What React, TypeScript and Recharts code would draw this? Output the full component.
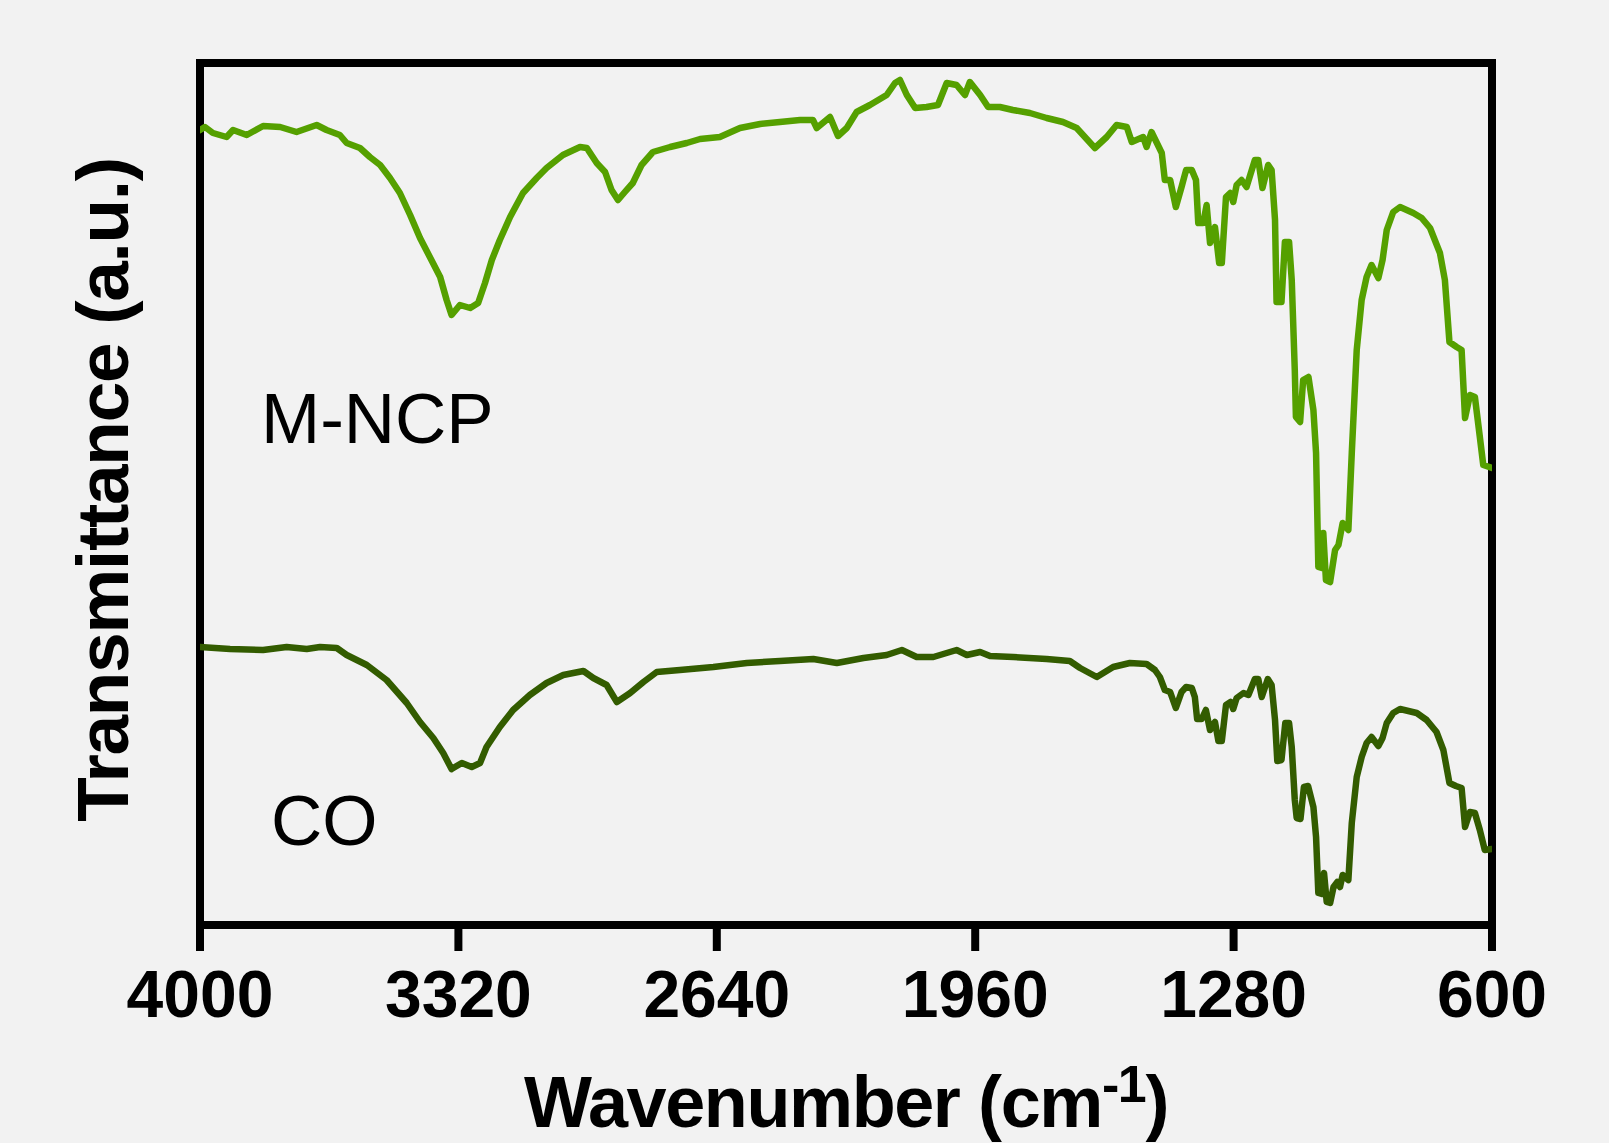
import React from 'react';
import { LineChart, Line, XAxis, YAxis, ReferenceArea } from 'recharts';

// ---------- data ----------
const X_TICKS = [4000, 3320, 2640, 1960, 1280, 600];

const MNCP_WAVENUMBER = [
  4000, 3987, 3966, 3930, 3913, 3877, 3834, 3789, 3746, 3693,
  3667, 3632, 3614, 3579, 3553, 3526, 3500, 3474, 3447, 3421,
  3387, 3368, 3351, 3338, 3316, 3289, 3268, 3250, 3232, 3211,
  3184, 3150, 3114, 3088, 3045, 3000, 2982, 2956, 2934, 2917,
  2900, 2882, 2861, 2838, 2808, 2763, 2719, 2684, 2632, 2579,
  2526, 2474, 2421, 2387, 2377, 2342, 2321, 2298, 2272, 2237,
  2193, 2171, 2158, 2140, 2118, 2088, 2058, 2035, 2009, 1987,
  1974, 1947, 1926, 1895, 1861, 1816, 1772, 1729, 1693, 1645,
  1614, 1588, 1561, 1548, 1518, 1509, 1496, 1469, 1461, 1447,
  1432, 1417, 1405, 1390, 1379, 1373, 1360, 1351, 1342, 1329,
  1318, 1311, 1300, 1289, 1281, 1272, 1259, 1246, 1224, 1215,
  1204, 1189, 1180, 1171, 1167, 1154, 1145, 1134, 1127, 1119,
  1116, 1105, 1097, 1083, 1070, 1063, 1057, 1048, 1044, 1037,
  1026, 1013, 1004, 993, 978, 969, 956, 943, 930, 917,
  899, 888, 877, 860, 842, 807, 785, 763, 737, 724,
  712, 693, 680, 671, 658, 645, 632, 623, 600,
];
const MNCP_T = [
  795, 798, 792, 788, 795, 790, 799, 798, 793, 800,
  795, 790, 782, 777, 768, 760, 747, 732, 710, 687,
  662, 648, 625, 610, 620, 617, 622, 642, 665, 685,
  708, 732, 747, 757, 770, 778, 777, 762, 753, 735,
  725, 733, 742, 760, 773, 778, 782, 786, 788, 797,
  801, 803, 805, 805, 797, 808, 789, 797, 813, 820,
  830, 842, 845, 830, 817, 818, 820, 842, 840, 830,
  843, 830, 818, 818, 815, 812, 807, 803, 797, 777,
  788, 800, 798, 783, 788, 778, 793, 772, 745, 745,
  718, 738, 755, 755, 745, 702, 702, 720, 682, 698,
  662, 662, 728, 732, 723, 740, 745, 738, 765, 765,
  737, 760, 755, 705, 623, 623, 683, 683, 645, 555,
  508, 503, 545, 548, 515, 472, 358, 357, 392, 345,
  343, 375, 380, 402, 395, 472, 575, 625, 648, 660,
  647, 665, 695, 713, 718, 712, 707, 697, 672, 645,
  583, 578, 575, 507, 530, 528, 488, 460, 457,
];

const CO_WAVENUMBER = [
  4000, 3921, 3834, 3772, 3719, 3684, 3640, 3614, 3561, 3509,
  3456, 3421, 3386, 3360, 3338, 3311, 3285, 3263, 3246, 3211,
  3176, 3132, 3088, 3044, 2991, 2965, 2930, 2903, 2868, 2833,
  2798, 2737, 2649, 2561, 2474, 2386, 2324, 2254, 2193, 2153,
  2114, 2070, 2009, 1982, 1947, 1921, 1860, 1772, 1711, 1684,
  1640, 1597, 1553, 1509, 1487, 1474, 1461, 1447, 1432, 1417,
  1405, 1390, 1382, 1376, 1364, 1353, 1342, 1329, 1320, 1311,
  1300, 1288, 1281, 1272, 1254, 1241, 1224, 1215, 1206, 1190,
  1180, 1171, 1165, 1154, 1144, 1134, 1127, 1119, 1114, 1104,
  1095, 1084, 1070, 1063, 1057, 1048, 1042, 1035, 1026, 1017,
  1007, 1000, 993, 978, 969, 956, 943, 930, 917, 899,
  888, 877, 860, 842, 798, 772, 746, 728, 712, 695,
  680, 671, 658, 645, 632, 619, 600,
];
const CO_T = [
  278, 276, 275, 278, 276, 278, 277, 270, 260, 245,
  222, 203, 187, 172, 156, 162, 158, 162, 178, 198,
  215, 230, 242, 250, 254, 247, 240, 223, 232, 243,
  253, 255, 258, 262, 264, 266, 262, 267, 270, 275,
  268, 268, 275, 270, 273, 269, 268, 266, 264, 257,
  248, 258, 262, 261, 255, 248, 235, 233, 217, 233,
  238, 237, 228, 206, 206, 215, 195, 203, 184, 184,
  220, 223, 216, 227, 232, 230, 246, 246, 228, 246,
  240, 205, 164, 165, 202, 202, 178, 125, 107, 106,
  138, 139, 118, 88, 32, 31, 52, 23, 22, 38,
  43, 38, 50, 45, 102, 148, 168, 182, 188, 179,
  187, 202, 212, 216, 212, 205, 193, 175, 142, 139,
  137, 98, 113, 112, 95, 75, 76,
];

const SERIES_NAMES = ['M-NCP', 'CO'];
const X_TITLE = 'Wavenumber (cm';
const X_TITLE_SUP = '-1';
const Y_TITLE = 'Transmittance (a.u.)';

const mncpData = MNCP_WAVENUMBER.map((wn, i) => ({ wn, t: MNCP_T[i] }));
const coData = CO_WAVENUMBER.map((wn, i) => ({ wn, t: CO_T[i] }));

// ---------- layout ----------
const W = 1609;
const H = 1143;
const FONT = '"Liberation Sans", Arial, Helvetica, sans-serif';
const BG = '#f2f2f2';

const renderTick = (props: any) => {
  const { x, y, payload } = props;
  return (
    <text
      x={x}
      y={y + 66}
      textAnchor="middle"
      fontFamily={FONT}
      fontWeight="bold"
      fontSize={66}
      fill="#000"
    >
      {String(payload.value)}
    </text>
  );
};

const renderTitles = () => (
  <g>
    <text
      x={846}
      y={1127}
      textAnchor="middle"
      fontFamily={FONT}
      fontWeight="bold"
      fontSize={72}
      letterSpacing={-1.4}
      fill="#000"
    >
      {X_TITLE}
      <tspan dy={-25} fontSize={52}>{X_TITLE_SUP}</tspan>
      <tspan dy={25}>)</tspan>
    </text>
    <text
      x={128}
      y={490}
      transform="rotate(-90 128 490)"
      textAnchor="middle"
      fontFamily={FONT}
      fontWeight="bold"
      fontSize={73}
      letterSpacing={-1.3}
      fill="#000"
    >
      {Y_TITLE}
    </text>
    <text x={261} y={443} fontFamily={FONT} fontSize={71} fill="#000">
      {SERIES_NAMES[0]}
    </text>
    <text x={271} y={845} fontFamily={FONT} fontSize={71} fill="#000">
      {SERIES_NAMES[1]}
    </text>
  </g>
);

const CSS =
  'html,body{margin:0;padding:0;background:#f2f2f2;}' +
  '.recharts-line-curve{stroke-width:6.5px !important;stroke-linejoin:round;stroke-linecap:round;}';

export default function App() {
  return (
    <div style={{ width: W, height: H, background: BG }}>
      <style>{CSS}</style>
      <LineChart
        width={W}
        height={H}
        margin={{ top: 63, left: 200, right: 117, bottom: 18 }}
        style={{ background: BG }}
      >
        <XAxis
          dataKey="wn"
          type="number"
          domain={[600, 4000]}
          reversed
          ticks={X_TICKS}
          interval={0}
          allowDataOverflow
          height={200}
          axisLine={false}
          tickLine={{ stroke: '#000', strokeWidth: 8 }}
          tickSize={26}
          tickMargin={0}
          tick={renderTick}
          label={{ content: renderTitles }}
        />
        <YAxis hide type="number" domain={[0, 862]} allowDataOverflow />
        <ReferenceArea
          x1={4000}
          x2={600}
          y1={0}
          y2={862}
          fill="none"
          fillOpacity={0}
          stroke="#000"
          strokeWidth={8}
          strokeOpacity={1}
          ifOverflow="visible"
        />
        <Line
          data={mncpData}
          dataKey="t"
          type="linear"
          stroke="#55a000"
          strokeWidth={6.5}
          dot={false}
          activeDot={false}
          isAnimationActive={false}
        />
        <Line
          data={coData}
          dataKey="t"
          type="linear"
          stroke="#335c00"
          strokeWidth={6.5}
          dot={false}
          activeDot={false}
          isAnimationActive={false}
        />
      </LineChart>
    </div>
  );
}
